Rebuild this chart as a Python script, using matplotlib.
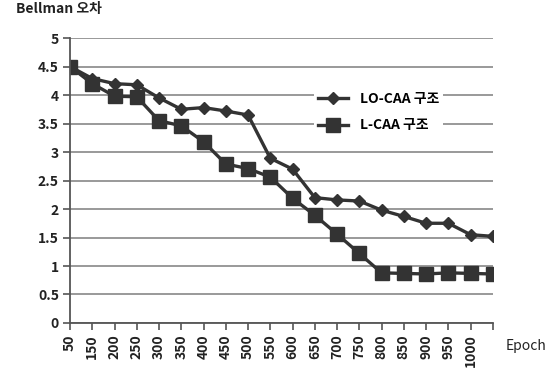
import numpy as np
import matplotlib
matplotlib.use('Agg')
import matplotlib.pyplot as plt

plt.rcParams['font.family'] = ['Noto Sans CJK KR', 'DejaVu Sans']

epochs = ['50', '150', '200', '250', '300', '350', '400', '450', '500', '550',
          '600', '650', '700', '750', '800', '850', '900', '950', '1000', '']
lo_caa = [4.5, 4.29, 4.2, 4.18, 3.95, 3.75, 3.78, 3.72, 3.65, 2.89,
          2.7, 2.2, 2.16, 2.14, 1.98, 1.87, 1.75, 1.75, 1.55, 1.52]
l_caa = [4.5, 4.2, 3.98, 3.97, 3.55, 3.46, 3.18, 2.79, 2.71, 2.56,
         2.19, 1.89, 1.56, 1.22, 0.88, 0.87, 0.86, 0.88, 0.87, 0.86]

fig = plt.figure(figsize=(5.47, 3.71), dpi=100)
ax = fig.add_axes([0.128, 0.1294, 0.773, 0.768])

x = np.arange(len(epochs))
line_col = '#333333'
ax.plot(x, lo_caa, color=line_col, lw=2.4, marker='D', ms=6, label='LO-CAA 구조')
ax.plot(x, l_caa, color=line_col, lw=2.4, marker='s', ms=10, label='L-CAA 구조')

ax.set_xlim(0, len(epochs) - 1)
ax.set_ylim(0, 5)
ax.set_yticks(np.arange(0, 5.01, 0.5))
ax.set_yticklabels(['0', '0.5', '1', '1.5', '2', '2.5', '3', '3.5', '4', '4.5', '5'],
                   fontsize=10, fontweight='bold', color='#222222')
ax.set_xticks(x)
ax.set_xticklabels(epochs, rotation=90, fontsize=10, fontweight='bold', color='#222222')
ax.grid(axis='y', color='#888888', lw=1.2)
ax.set_axisbelow(True)
for s in ['top', 'right']:
    ax.spines[s].set_visible(False)
for s in ['left', 'bottom']:
    ax.spines[s].set_color('#555555')
    ax.spines[s].set_linewidth(1.3)
ax.tick_params(axis='both', length=5, width=1.2, color='#555555', pad=3)

leg = ax.legend(loc='upper left', bbox_to_anchor=(0.56, 0.85), frameon=True,
                fancybox=False, edgecolor='none', facecolor='white', framealpha=1,
                prop={'size': 10, 'weight': 'bold'}, handlelength=2.2,
                labelspacing=0.9, borderpad=0.3)

fig.text(0.03, 1 - 2 / 371, 'Bellman 오차', fontsize=10, fontweight='bold',
         color='#222222', va='top', ha='left')
fig.text(0.925, 1 - 346 / 371, 'Epoch', fontsize=10, color='#222222',
         va='center', ha='left')

fig.savefig('out.png', dpi=100)
